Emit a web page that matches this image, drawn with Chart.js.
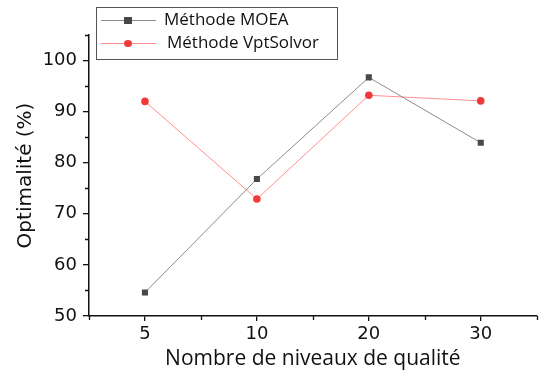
<!DOCTYPE html>
<html><head><meta charset="utf-8">
<script src="https://cdn.jsdelivr.net/npm/chart.js@4.4.0/dist/chart.umd.min.js"></script>
<style>html,body{margin:0;padding:0;background:#fff}#wrap{width:541px;height:374px}</style>
</head><body><div id="wrap"><canvas id="c"></canvas></div>
<script>
const categories = ['5', '10', '20', '30'];
const moeaValues = [54.6, 76.8, 96.7, 83.9];
const vptValues = [92.0, 72.9, 93.2, 92.1];
const seriesNames = ['Méthode MOEA', 'Méthode VptSolvor'];
const yMinorTicks = [55, 65, 75, 85, 95, 105];
const xTitle = 'Nombre de niveaux de qualité';
const yTitle = 'Optimalité (%)';

const minorTicks = {
  id: 'minorTicks',
  afterDraw(chart) {
    const ctx = chart.ctx, x = chart.scales.x, y = chart.scales.y;
    ctx.save();
    ctx.strokeStyle = '#111'; ctx.lineWidth = 1.3;
    ctx.beginPath();
    yMinorTicks.forEach(v => { const py = Math.round(y.getPixelForValue(v)) + 0.5; ctx.moveTo(x.left, py); ctx.lineTo(x.left - 4, py); });
    const n = categories.length;
    for (let i = 0; i <= n; i++) {
      const px = Math.round(x.left + (x.right - x.left) * i / n) + 0.5;
      ctx.moveTo(px, y.bottom); ctx.lineTo(px, y.bottom + 4);
    }
    ctx.stroke();
    ctx.restore();
  }
};

const legendBox = {
  id: 'legendBox',
  afterDraw(chart) {
    const ctx = chart.ctx;
    ctx.save();
    ctx.strokeStyle = '#555'; ctx.lineWidth = 1;
    ctx.strokeRect(96.5, 7.5, 241, 52);
    const rows = [20, 43];
    const textX = [164, 167];
    chart.data.datasets.forEach((ds, i) => {
      const yy = rows[i];
      ctx.strokeStyle = ds.borderColor; ctx.lineWidth = 1;
      ctx.beginPath(); ctx.moveTo(101, yy + 0.5); ctx.lineTo(156, yy + 0.5); ctx.stroke();
      ctx.fillStyle = ds.pointBackgroundColor;
      if (ds.pointStyle === 'rect') { ctx.fillRect(124, yy - 3, 8, 7); }
      else { ctx.beginPath(); ctx.ellipse(128, yy + 0.5, 4, 3.5, 0, 0, Math.PI * 2); ctx.fill(); }
      ctx.fillStyle = '#111';
      ctx.font = '17px "Open Sans"';
      ctx.textBaseline = 'middle';
      ctx.fillText(ds.label, textX[i], yy);
    });
    ctx.restore();
  }
};

new Chart(document.getElementById('c'), {
  type: 'line',
  data: {
    labels: categories,
    datasets: [
      { label: seriesNames[0], data: moeaValues, borderColor: '#8c8c8c', borderWidth: 1,
        pointStyle: 'rect', pointRadius: 4.3, pointBackgroundColor: '#484848', pointBorderColor: '#484848', pointBorderWidth: 0, tension: 0 },
      { label: seriesNames[1], data: vptValues, borderColor: '#ff8f8f', borderWidth: 1,
        pointStyle: 'circle', pointRadius: 3.8, pointBackgroundColor: '#f23a3a', pointBorderColor: '#f23a3a', pointBorderWidth: 0, tension: 0 }
    ]
  },
  options: {
    responsive: true, maintainAspectRatio: false, animation: false,
    layout: { padding: { top: 35, right: 0, left: 0, bottom: 0 } },
    plugins: { legend: { display: false }, tooltip: { enabled: false } },
    scales: {
      x: {
        type: 'category', offset: true,
        grid: { drawOnChartArea: false, drawTicks: true, tickLength: 5, color: '#111', lineWidth: 1.3, offset: false },
        border: { display: true, color: '#111', width: 1.5 },
        ticks: { color: '#111', font: { family: 'DejaVu Sans', size: 18 }, padding: 3 },
        title: { display: true, text: xTitle, color: '#111', font: { family: 'Open Sans', size: 21 }, padding: { top: 0, bottom: 2 } },
        afterFit(s) { s.height = 58; }
      },
      y: {
        min: 50, max: 105,
        grid: { drawOnChartArea: false, drawTicks: true, tickLength: 6, color: '#111', lineWidth: 1.3 },
        border: { display: true, color: '#111', width: 1.5 },
        ticks: { stepSize: 10, includeBounds: false, color: '#111', font: { family: 'DejaVu Sans', size: 18 }, padding: 6 },
        title: { display: true, text: yTitle, color: '#111', font: { family: 'DejaVu Sans', size: 20 }, padding: { top: 14, bottom: 0 } },
        afterFit(s) { s.width = 89; }
      }
    }
  },
  plugins: [minorTicks, legendBox]
});
</script></body></html>
